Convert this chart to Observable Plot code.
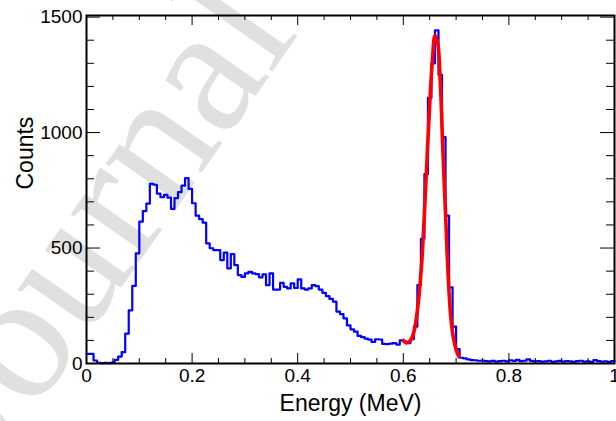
<!DOCTYPE html>
<html>
<head>
<meta charset="utf-8">
<script src="https://cdn.jsdelivr.net/npm/d3@7"></script>
<script src="https://cdn.jsdelivr.net/npm/@observablehq/plot@0.6"></script>
<style>
  html, body { margin: 0; padding: 0; background: white; }
  #wrap { position: relative; width: 616px; height: 421px; overflow: hidden; }
  #wm { position: absolute; left: 0; top: 0; z-index: 0; }
  #chart { position: absolute; left: 0; top: 0; z-index: 1; }
</style>
</head>
<body>
<div id="wrap">
  <svg id="wm" width="616" height="421">
    <text x="-8" y="472" transform="rotate(-55 -8 472)" font-family="'Liberation Serif', 'DejaVu Serif', serif" font-size="182" fill="#e0e0e0">Journal Pre-proof</text>
  </svg>
  <div id="chart"></div>
</div>
<script>
// Histogram: 150 bins from 0 to 1 MeV
const X_MIN = 0, X_MAX = 1, N_BINS = 150;
const counts = [
  42, 42, 13, 3, 2, 3, 2, 4, 16, 30,
  49, 129, 230, 336, 477, 614, 660, 692, 778, 774,
  736, 720, 730, 718, 670, 716, 742, 770, 803, 756,
  694, 640, 625, 610, 520, 499, 491, 491, 448, 480,
  412, 474, 426, 383, 375, 390, 397, 390, 387, 373,
  386, 339, 390, 320, 320, 349, 332, 325, 347, 327,
  364, 325, 320, 325, 339, 335, 320, 306, 292, 280,
  268, 225, 214, 195, 165, 148, 138, 120, 114, 108,
  103, 93, 105, 104, 85, 84, 86, 88, 82, 100,
  95, 88, 105, 160, 340, 540, 820, 1150, 1300, 1443,
  1250, 980, 640, 330, 160, 62, 25, 22, 18, 15,
  14, 12, 13, 10, 9, 11, 8, 10, 12, 9,
  14, 11, 16, 10, 12, 18, 11, 9, 10, 8,
  9, 12, 7, 9, 11, 8, 10, 9, 7, 10,
  12, 8, 9, 7, 15, 10, 8, 9, 7, 10
];

// Gaussian fit curve
const fitX = [0.600, 0.605, 0.610, 0.615, 0.620, 0.625, 0.630, 0.635, 0.640, 0.645, 0.650,
              0.655, 0.660, 0.665, 0.670, 0.675, 0.680, 0.685, 0.690, 0.695, 0.700, 0.705];
const fitY = [100, 90, 92, 105, 135, 200, 300, 440, 650, 890, 1120,
              1310, 1420, 1390, 1220, 920, 650, 380, 200, 110, 60, 30];

// Axes
const xMajor = [0, 0.2, 0.4, 0.6, 0.8, 1];
const xTickLabels = ["0", "0.2", "0.4", "0.6", "0.8", "1"];
const xMinor = [0.05, 0.1, 0.15, 0.25, 0.3, 0.35, 0.45, 0.5, 0.55, 0.65, 0.7, 0.75, 0.85, 0.9, 0.95];
const yMajor = [0, 500, 1000, 1500];
const yTickLabels = ["0", "500", "1000", "1500"];
const yMinor = [100, 200, 300, 400, 600, 700, 800, 900, 1100, 1200, 1300, 1400];
const Y_MAX = 1507;
const xTitle = "Energy (MeV)";
const yTitle = "Counts";

const binW = (X_MAX - X_MIN) / N_BINS;
const hist = counts.map((c, i) => ({x: X_MIN + i * binW, y: c}));
hist.push({x: X_MAX, y: counts[counts.length - 1]});
const fit = fitX.map((x, i) => ({x, y: fitY[i]}));

const W = 616, H = 421, ML = 86, MR = 2, MT = 15, MB = 58;
const PW = W - ML - MR, PH = H - MT - MB;
const font = "'Liberation Sans', Arial, Helvetica, sans-serif";

const chart = Plot.plot({
  width: W, height: H,
  marginLeft: ML, marginRight: MR, marginTop: MT, marginBottom: MB,
  style: {background: "transparent", fontFamily: font, color: "black", overflow: "visible"},
  x: {domain: [X_MIN, X_MAX]},
  y: {domain: [0, Y_MAX]},
  marks: [
    Plot.line(hist, {x: "x", y: "y", curve: "step-after", stroke: "#0000ff", strokeWidth: 2.2}),
    Plot.line(fit, {x: "x", y: "y", curve: "catmull-rom", stroke: "#ff0000", strokeWidth: 3.6, strokeLinecap: "round"}),
    // bottom ticks (inside)
    Plot.ruleX(xMajor, {x: d => d, insetTop: PH - 10, stroke: "black", strokeWidth: 1}),
    Plot.ruleX(xMinor, {x: d => d, insetTop: PH - 5, stroke: "black", strokeWidth: 1}),
    // top ticks
    Plot.ruleX(xMajor, {x: d => d, insetBottom: PH - 10, stroke: "black", strokeWidth: 1}),
    Plot.ruleX(xMinor, {x: d => d, insetBottom: PH - 5, stroke: "black", strokeWidth: 1}),
    // left ticks
    Plot.ruleY(yMajor, {y: d => d, insetRight: PW - 14, stroke: "black", strokeWidth: 1}),
    Plot.ruleY(yMinor, {y: d => d, insetRight: PW - 8, stroke: "black", strokeWidth: 1}),
    // right ticks
    Plot.ruleY(yMajor, {y: d => d, insetLeft: PW - 14, stroke: "black", strokeWidth: 1}),
    Plot.ruleY(yMinor, {y: d => d, insetLeft: PW - 8, stroke: "black", strokeWidth: 1}),
    Plot.frame({stroke: "black", strokeWidth: 2}),
    Plot.axisX({ticks: xMajor, tickFormat: d => xTickLabels[xMajor.indexOf(d)], tickSize: 0, tickPadding: 5, fontSize: 19, label: null}),
    Plot.axisY({ticks: yMajor, tickFormat: d => yTickLabels[yMajor.indexOf(d)], tickSize: 0, tickPadding: 4, fontSize: 19, label: null}),
    Plot.text([xTitle], {frameAnchor: "bottom", dy: 47, fontSize: 23, text: d => d}),
    Plot.text([yTitle], {frameAnchor: "left", dx: -61, rotate: -90, fontSize: 23, text: d => d})
  ]
});
document.getElementById("chart").appendChild(chart);
</script>
</body>
</html>
